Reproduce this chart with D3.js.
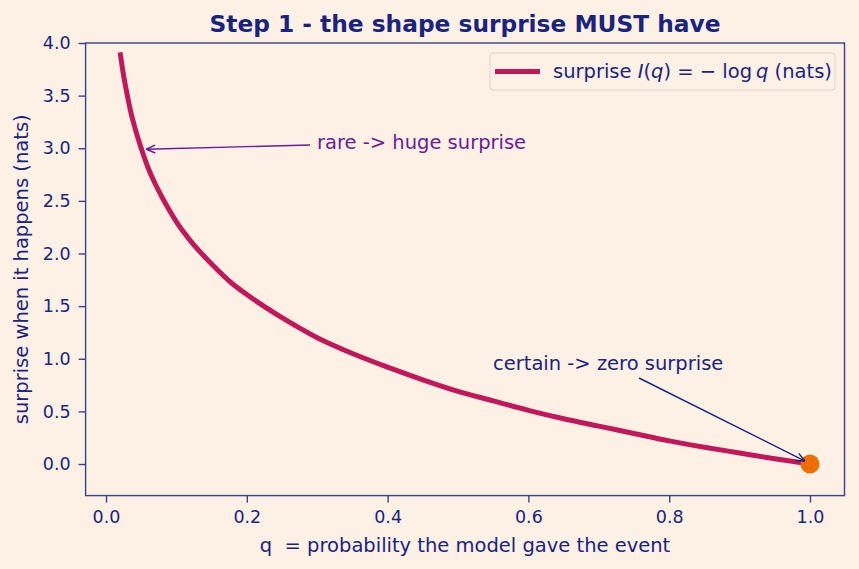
<!doctype html>
<html>
<head>
<meta charset="UTF-8">
<title>surprise</title>
<script src="https://d3js.org/d3.v7.min.js"></script>
<style>
  body { margin: 0; background: #fdf1e6; }
  * { font-family: "DejaVu Sans", sans-serif; }
  text { white-space: pre; }
</style>
</head>
<body>
<script>
// values
var qValues = [0.02, 0.025, 0.03, 0.035, 0.04, 0.05, 0.06, 0.07, 0.08, 0.09, 0.1, 0.12, 0.15, 0.18, 0.2, 0.25, 0.3, 0.35, 0.4, 0.45, 0.5, 0.55, 0.6, 0.65, 0.7, 0.75, 0.8, 0.85, 0.9, 0.95, 1.0];
var surprise = [3.91, 3.69, 3.51, 3.35, 3.22, 3.0, 2.81, 2.66, 2.53, 2.41, 2.30, 2.12, 1.90, 1.71, 1.61, 1.39, 1.20, 1.05, 0.92, 0.80, 0.69, 0.60, 0.51, 0.43, 0.36, 0.29, 0.22, 0.16, 0.105, 0.05, 0.0];
var xTicks = [0.0, 0.2, 0.4, 0.6, 0.8, 1.0];
var yTicks = [0.0, 0.5, 1.0, 1.5, 2.0, 2.5, 3.0, 3.5, 4.0];
var certainPoint = [1.0, 0.0];
var rarePoint = [0.05, 3.0];

var W = 859, H = 569;
var pL = 85.6, pR = 844.5, pT = 43, pB = 495.6;
var ink = "#1a237e";

var svg = d3.select("body").append("svg").attr("width", W).attr("height", H);

var x = d3.scaleLinear().domain([-0.029, 1.049]).range([pL, pR]);
var y = d3.scaleLinear().domain([-0.3, 4.0]).range([pB, pT]);

var defs = svg.append("defs");
function arrowHead(id, col) {
    defs.append("marker").attr("id", id)
        .attr("viewBox", "0 0 10 10").attr("refX", 10).attr("refY", 5)
        .attr("markerWidth", 10).attr("markerHeight", 10)
        .attr("markerUnits", "userSpaceOnUse").attr("orient", "auto")
        .append("path").attr("d", "M1,1 L10,5 L1,9")
        .attr("fill", "none").attr("stroke", col).attr("stroke-width", 1.4);
}
arrowHead("arrP", "#6a1b9a");
arrowHead("arrN", ink);

// curve
var data = qValues.map(function(q, i) { return [q, surprise[i]]; });
svg.append("path").datum(data)
    .attr("fill", "none").attr("stroke", "#c2185b").attr("stroke-width", 5)
    .attr("d", d3.line().x(function(d) { return x(d[0]); }).y(function(d) { return y(d[1]); }).curve(d3.curveMonotoneX));

svg.append("circle").attr("cx", x(certainPoint[0])).attr("cy", y(certainPoint[1])).attr("r", 9.5).attr("fill", "#ef6c00");

// axes
var xa = svg.append("g").attr("transform", "translate(0," + pB + ")")
    .call(d3.axisBottom(x).tickValues(xTicks).tickFormat(d3.format(".1f")).tickSize(7).tickPadding(8));
var ya = svg.append("g").attr("transform", "translate(" + pL + ",0)")
    .call(d3.axisLeft(y).tickValues(yTicks).tickFormat(d3.format(".1f")).tickSize(7).tickPadding(8));
[xa, ya].forEach(function(g) {
    g.attr("font-size", 17.5).attr("font-family", "DejaVu Sans");
    g.select(".domain").remove();
    g.selectAll("line").attr("stroke", "#3a3f8a").attr("stroke-width", 1.4);
    g.selectAll("text").attr("fill", ink);
});
svg.append("rect").attr("x", pL).attr("y", pT).attr("width", pR - pL).attr("height", pB - pT)
    .attr("fill", "none").attr("stroke", "#3a3f8a").attr("stroke-width", 1.4);

// annotations
svg.append("line").attr("x1", 310).attr("y1", 145).attr("x2", x(rarePoint[0]) + 5).attr("y2", y(rarePoint[1]) + 1)
    .attr("stroke", "#6a1b9a").attr("stroke-width", 1.4).attr("marker-end", "url(#arrP)");
svg.append("text").attr("x", 317).attr("y", 149).attr("fill", "#6a1b9a").attr("font-size", 19.5).text("rare -> huge surprise");

svg.append("line").attr("x1", 639).attr("y1", 378).attr("x2", x(certainPoint[0]) - 5).attr("y2", y(certainPoint[1]) - 3)
    .attr("stroke", ink).attr("stroke-width", 1.4).attr("marker-end", "url(#arrN)");
svg.append("text").attr("x", 493).attr("y", 370).attr("fill", ink).attr("font-size", 19.5).text("certain -> zero surprise");

// legend
svg.append("rect").attr("x", 490).attr("y", 53).attr("width", 345).attr("height", 37).attr("rx", 3)
    .attr("fill", "#fdf1e6").attr("stroke", "#ddd3c8");
svg.append("line").attr("x1", 495).attr("x2", 540).attr("y1", 71.5).attr("y2", 71.5).attr("stroke", "#c2185b").attr("stroke-width", 5);
var lt = svg.append("text").attr("x", 553).attr("y", 78).attr("fill", ink).attr("font-size", 19.5);
lt.append("tspan").text("surprise ");
lt.append("tspan").attr("font-style", "italic").text("I");
lt.append("tspan").text("(");
lt.append("tspan").attr("font-style", "italic").text("q");
lt.append("tspan").text(") = \u2212 log\u2009");
lt.append("tspan").attr("font-style", "italic").text("q");
lt.append("tspan").text(" (nats)");

// titles
svg.append("text").attr("x", (pL + pR) / 2).attr("y", 32).attr("text-anchor", "middle")
    .attr("fill", ink).attr("font-size", 23.3).attr("font-weight", "bold").text("Step 1 - the shape surprise MUST have");
svg.append("text").attr("x", (pL + pR) / 2).attr("y", 552).attr("text-anchor", "middle")
    .attr("fill", ink).attr("font-size", 19.5).text("q  = probability the model gave the event");
svg.append("text").attr("transform", "translate(27.5," + (pT + pB) / 2 + ") rotate(-90)").attr("text-anchor", "middle")
    .attr("fill", ink).attr("font-size", 19.5).text("surprise when it happens (nats)");
</script>
</body>
</html>
